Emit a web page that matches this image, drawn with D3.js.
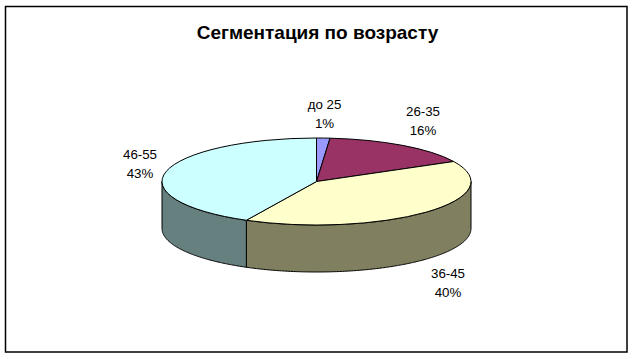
<!DOCTYPE html>
<html lang="ru">
  <head>
    <meta charset="UTF-8" />
    <title>Сегментация по возрасту</title>
    <script src="https://cdnjs.cloudflare.com/ajax/libs/d3/7.9.0/d3.min.js"></script>
    <style>
      html, body { margin: 0; padding: 0; background: #fff; }
      svg { display: block; }
      text { font-family: "Liberation Sans", Arial, sans-serif; fill: #000; }
    </style>
  </head>
  <body>
    <div id="wrapper"></div>
    <script>
      const titleText = "Сегментация по возрасту";
      const categories = ["до 25", "26-35", "36-45", "46-55"];
      const shares = [1.4, 16.0, 40.1, 42.5];
      const percentLabels = ["1%", "16%", "40%", "43%"];
      const topColors = ["#9999ff", "#993366", "#ffffcc", "#ccffff"];
      const sideColors = ["#666699", "#662244", "#808060", "#668080"];

      const dimensions = { width: 635, height: 359 };
      const pieGeom = { cx: 316.5, cy: 181.5, rx: 154.5, ry: 43.5, depth: 47 };
      // label centres, picked by eye from the reference
      const labelPos = [
        { x: 324.5, y: 109 },
        { x: 423, y: 116 },
        { x: 448, y: 278 },
        { x: 140, y: 159 },
      ];

      const svg = d3
        .select("#wrapper")
        .append("svg")
        .attr("width", dimensions.width)
        .attr("height", dimensions.height);

      svg
        .append("rect")
        .attr("x", 5.5)
        .attr("y", 6.5)
        .attr("width", 621.5)
        .attr("height", 345.5)
        .attr("fill", "#fff")
        .attr("stroke", "#000")
        .attr("stroke-width", 1.5);

      svg
        .append("text")
        .attr("x", 317.5)
        .attr("y", 39)
        .attr("text-anchor", "middle")
        .attr("font-size", 19)
        .attr("font-weight", "bold")
        .text(titleText);

      const slices = d3
        .pie()
        .sort(null)
        .value((d) => d.share)(
          categories.map((name, i) => ({ name, share: shares[i], i }))
        );

      const px = (a) => pieGeom.cx + pieGeom.rx * Math.sin(a);
      const py = (a) => pieGeom.cy - pieGeom.ry * Math.cos(a);

      // outer wall, only the front half (angles PI/2 .. 3PI/2) is visible
      const wall = d3
        .area()
        .x((a) => px(a))
        .y0((a) => py(a))
        .y1((a) => py(a) + pieGeom.depth);

      svg
        .append("g")
        .selectAll("path")
        .data(
          slices.filter(
            (d) => d.endAngle > Math.PI / 2 && d.startAngle < (3 * Math.PI) / 2
          )
        )
        .join("path")
        .attr("d", (d) => {
          const a0 = Math.max(d.startAngle, Math.PI / 2);
          const a1 = Math.min(d.endAngle, (3 * Math.PI) / 2);
          const steps = d3.range(a0, a1, 0.01).concat(a1);
          return wall(steps) + "Z";
        })
        .attr("fill", (d) => sideColors[d.data.i])
        .attr("stroke", "#000")
        .attr("stroke-width", 1);

      const arc = d3.arc().innerRadius(0).outerRadius(pieGeom.rx);

      svg
        .append("g")
        .attr(
          "transform",
          `translate(${pieGeom.cx},${pieGeom.cy}) scale(1,${pieGeom.ry / pieGeom.rx})`
        )
        .selectAll("path")
        .data(slices)
        .join("path")
        .attr("d", arc)
        .attr("fill", (d) => topColors[d.data.i])
        .attr("stroke", "#000")
        .attr("stroke-width", 1)
        .attr("vector-effect", "non-scaling-stroke");

      const labels = svg
        .append("g")
        .selectAll("text")
        .data(slices)
        .join("text")
        .attr("text-anchor", "middle")
        .attr("font-size", 13.3);

      labels
        .append("tspan")
        .attr("x", (d) => labelPos[d.data.i].x)
        .attr("y", (d) => labelPos[d.data.i].y)
        .text((d) => d.data.name);
      labels
        .append("tspan")
        .attr("x", (d) => labelPos[d.data.i].x)
        .attr("y", (d) => labelPos[d.data.i].y + 18.5)
        .text((d) => percentLabels[d.data.i]);
    </script>
  </body>
</html>
